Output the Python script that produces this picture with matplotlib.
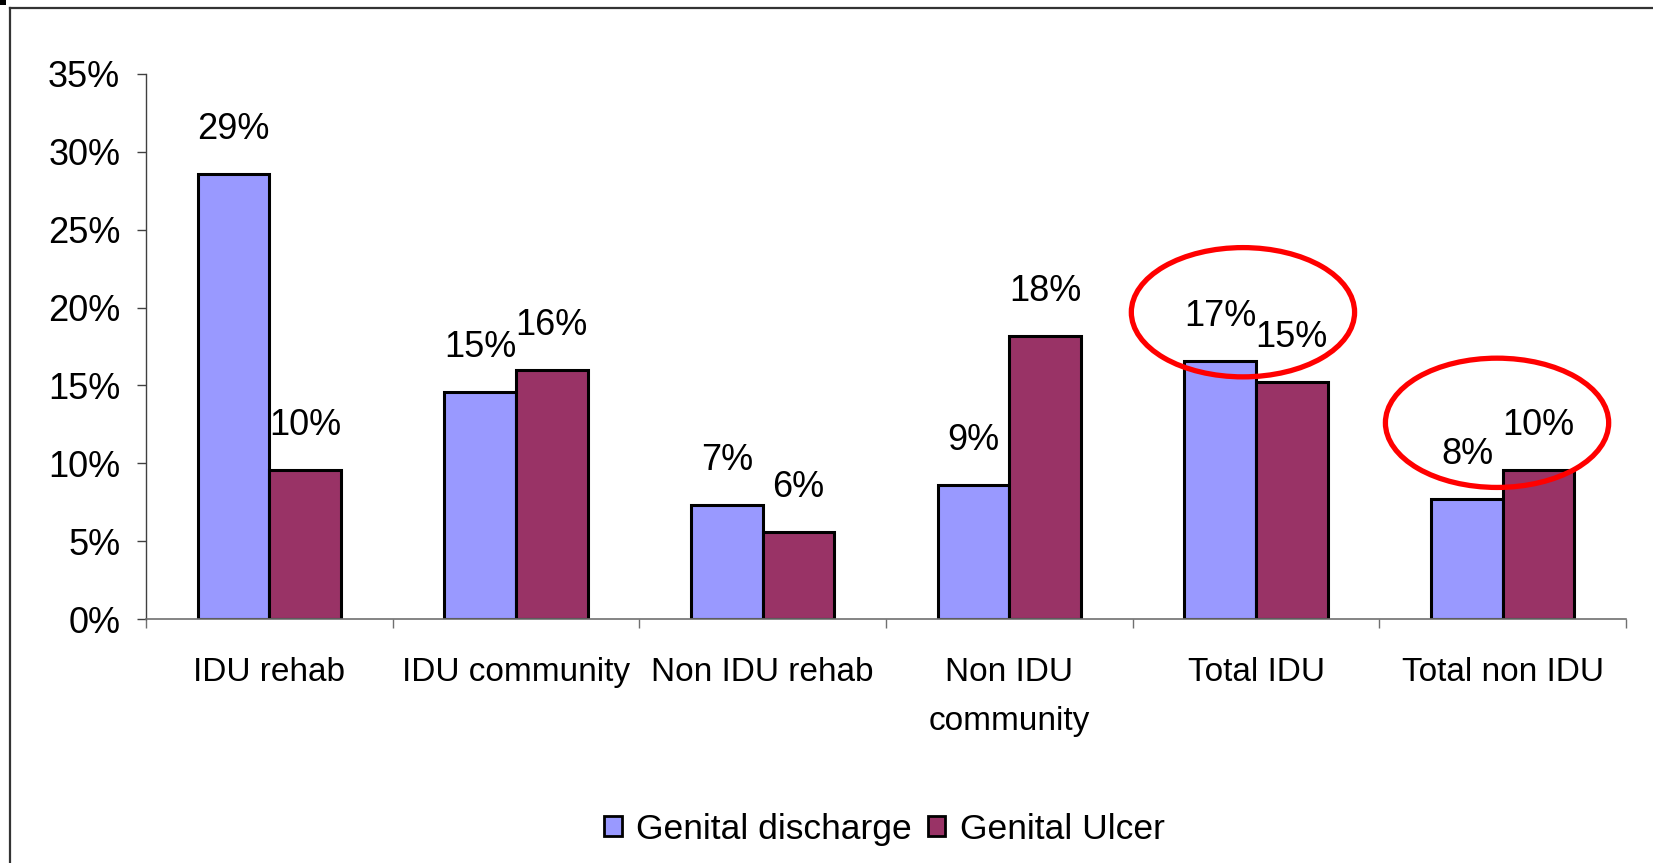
import matplotlib
matplotlib.use("Agg")
import matplotlib.pyplot as plt
from matplotlib.patches import Ellipse, Rectangle, Patch
from matplotlib.lines import Line2D
from matplotlib.ticker import FuncFormatter, FixedLocator
import numpy as np

categories = ['IDU rehab', 'IDU community', 'Non IDU rehab', 'Non IDU\ncommunity',
              'Total IDU', 'Total non IDU']
discharge = [0.286, 0.146, 0.073, 0.086, 0.166, 0.077]
ulcer = [0.096, 0.160, 0.056, 0.182, 0.152, 0.096]
series_names = ['Genital discharge', 'Genital Ulcer']
yticks = [0, 0.05, 0.10, 0.15, 0.20, 0.25, 0.30, 0.35]

# highlighted groups (category index, x shift, y centre)
highlights = [(4, -0.053, 0.197), (5, -0.023, 0.126)]

plt.rcParams['font.family'] = ['Liberation Sans', 'DejaVu Sans']

fig = plt.figure(figsize=(16.53, 8.63), dpi=100)
ax = fig.add_axes([0.0883, 0.2827, 0.8954, 0.6316])

x = np.arange(len(categories)) + 0.5
w = 0.29
ax.bar(x - w / 2, discharge, w, color='#9999FF', edgecolor='black', linewidth=2.2)
ax.bar(x + w / 2, ulcer, w, color='#993366', edgecolor='black', linewidth=2.2)

for xs, vals in [(x - w / 2, discharge), (x + w / 2, ulcer)]:
    for xi, v in zip(xs, vals):
        ax.annotate(f"{v * 100:.0f}%", (xi, v), xytext=(0, 32), textcoords='offset points',
                    ha='center', va='center', fontsize=26)

for idx, dx, yc in highlights:
    ax.add_patch(Ellipse((idx + 0.5 + dx, yc), 0.905, 0.083, fill=False,
                         edgecolor='red', linewidth=3.8, clip_on=False, zorder=5))

ax.set_xlim(0, len(categories))
ax.set_ylim(0, 0.35)
ax.set_yticks(yticks)
ax.yaxis.set_major_formatter(FuncFormatter(lambda v, p: f"{v * 100:.0f}%"))
ax.xaxis.set_major_locator(FixedLocator(np.arange(len(categories) + 1)))
ax.set_xticklabels([])
ax.xaxis.set_minor_locator(FixedLocator(x))
ax.set_xticklabels(categories, minor=True)
for t in ax.get_xticklabels(minor=True):
    t.set_linespacing(1.75)

ax.tick_params(axis='y', labelsize=26, length=6.5, width=1, color='#404040', pad=12)
ax.tick_params(axis='x', which='major', length=6.5, width=1, color='#707070', direction='out')
ax.tick_params(axis='x', which='minor', length=0, labelsize=24, pad=27)

for s in ['top', 'right']:
    ax.spines[s].set_visible(False)
ax.spines['left'].set_color('#404040')
ax.spines['bottom'].set_color('#707070')
ax.spines['left'].set_linewidth(1)
ax.spines['bottom'].set_linewidth(1.2)

handles = [Patch(facecolor='#9999FF', edgecolor='black', linewidth=2),
           Patch(facecolor='#993366', edgecolor='black', linewidth=2)]
fig.legend(handles, series_names, loc='center', bbox_to_anchor=(0.535, 0.039), ncol=2,
           frameon=False, fontsize=25.5, handlelength=0.5, handleheight=0.5,
           handletextpad=0.4, columnspacing=0.45)

# outer frame
fig.add_artist(Line2D([0.0061, 0.0061], [0, 0.9913], transform=fig.transFigure,
                      color='#333333', linewidth=1.6))
fig.add_artist(Line2D([0.0061, 1], [0.9913, 0.9913], transform=fig.transFigure,
                      color='#333333', linewidth=1.6))
fig.add_artist(Rectangle((0, 1 - 5 / 863), 6 / 1653, 5 / 863, transform=fig.transFigure,
                         facecolor='black', edgecolor='none'))

fig.savefig('out.png', dpi=100)
